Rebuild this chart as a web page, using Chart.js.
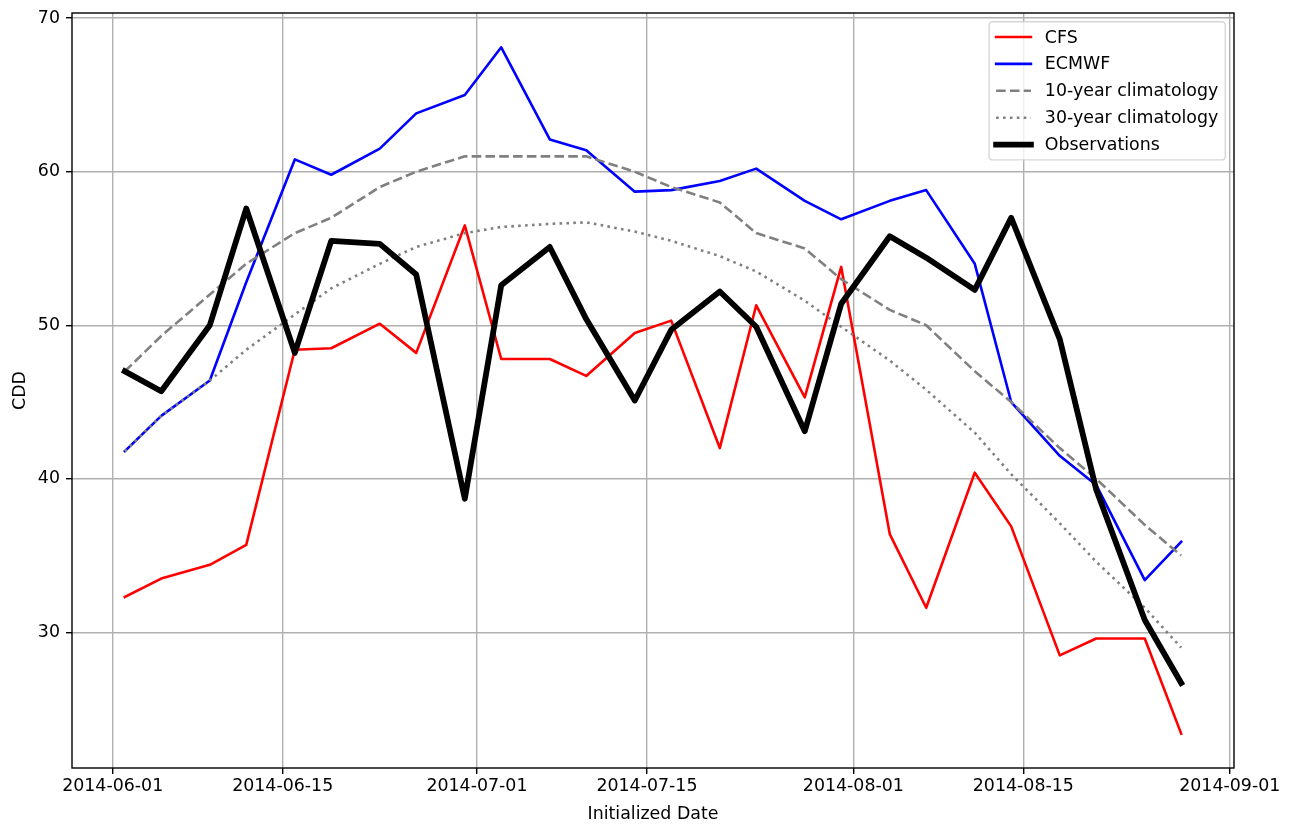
<!DOCTYPE html>
<html>
<head>
<meta charset="utf-8">
<script src="https://cdn.jsdelivr.net/npm/chart.js@4.4.1/dist/chart.umd.min.js"></script>
<style>
  html, body { margin: 0; padding: 0; background: #fff; }
  #wrap { width: 1292px; height: 836px; position: relative; }
</style>
</head>
<body>
<div id="wrap"><canvas id="cddChart"></canvas></div>
<script>
// initialization dates (Mondays and Thursdays)
const dates = [
  "2014-06-02", "2014-06-05", "2014-06-09", "2014-06-12", "2014-06-16", "2014-06-19",
  "2014-06-23", "2014-06-26", "2014-06-30", "2014-07-03", "2014-07-07", "2014-07-10",
  "2014-07-14", "2014-07-17", "2014-07-21", "2014-07-24", "2014-07-28", "2014-07-31",
  "2014-08-04", "2014-08-07", "2014-08-11", "2014-08-14", "2014-08-18", "2014-08-21",
  "2014-08-25", "2014-08-28"
];

const cfs = [32.3, 33.5, 34.4, 35.7, 48.4, 48.5, 50.1, 48.2, 56.5, 47.8, 47.8, 46.7, 49.5,
             50.3, 42.0, 51.3, 45.3, 53.8, 36.4, 31.6, 40.4, 36.9, 28.5, 29.6, 29.6, 23.4];
const ecmwf = [41.8, 44.1, 46.4, 52.8, 60.8, 59.8, 61.5, 63.8, 65.0, 68.1, 62.1, 61.4, 58.7,
               58.8, 59.4, 60.2, 58.1, 56.9, 58.1, 58.8, 54.0, 45.0, 41.5, 39.6, 33.4, 35.9];
const clim10 = [47.0, 49.3, 52.0, 54.0, 56.0, 57.0, 59.0, 60.0, 61.0, 61.0, 61.0, 61.0, 60.0,
                59.0, 58.0, 56.0, 55.0, 53.0, 51.0, 50.0, 47.0, 45.0, 42.0, 40.0, 37.0, 35.0];
const clim30 = [41.8, 44.1, 46.4, 48.4, 50.7, 52.4, 54.0, 55.1, 56.0, 56.4, 56.6, 56.7, 56.1,
                55.5, 54.5, 53.5, 51.6, 49.9, 47.7, 45.8, 43.0, 40.3, 37.1, 34.6, 31.6, 29.0];
const observations = [47.0, 45.7, 50.0, 57.6, 48.2, 55.5, 55.3, 53.3, 38.7, 52.6, 55.1, 50.4, 45.1,
                      49.7, 52.2, 49.9, 43.1, 51.4, 55.8, 54.4, 52.3, 57.0, 49.1, 39.3, 30.8, 26.7];

const xTickLabels = ["2014-06-01", "2014-06-15", "2014-07-01", "2014-07-15", "2014-08-01", "2014-08-15", "2014-09-01"];
const yTicks = [30, 40, 50, 60, 70];

// no date adapter available offline, so x is "days since 2014-06-01"
const DAY0 = Date.parse("2014-06-01");
const toDay = (d) => (Date.parse(d) - DAY0) / 86400000;
const pts = (vals) => vals.map((v, i) => ({ x: toDay(dates[i]), y: v }));

const FONT = 17.4;
Chart.defaults.font.family = "'DejaVu Sans', sans-serif";
Chart.defaults.font.size = FONT;
Chart.defaults.color = "#000";

// box around the axes + matplotlib-like legend
const frameAndLegend = {
  id: "frameAndLegend",
  afterDraw(chart) {
    const { ctx, chartArea: a } = chart;
    ctx.save();
    ctx.strokeStyle = "#000";
    ctx.lineWidth = 1.4;
    ctx.strokeRect(a.left, a.top, a.right - a.left, a.bottom - a.top);

    ctx.font = FONT + "px 'DejaVu Sans'";
    const sets = chart.data.datasets;
    const textW = Math.max(...sets.map((d) => ctx.measureText(d.label).width));
    const pad = 0.4 * FONT, handle = 2.0 * FONT, gap = 0.8 * FONT;
    const rowH = 26.9, firstRow = 15.3;
    const w = pad + handle + gap + textW + pad;
    const h = firstRow * 2 + rowH * (sets.length - 1);
    const right = a.right - 0.5 * FONT;
    const top = a.top + 0.5 * FONT;
    const left = right - w;

    ctx.beginPath();
    ctx.roundRect(left, top, w, h, 0.2 * FONT);
    ctx.fillStyle = "rgba(255,255,255,0.8)";
    ctx.fill();
    ctx.strokeStyle = "rgba(204,204,204,0.8)";
    ctx.lineWidth = 1.4;
    ctx.stroke();

    sets.forEach((d, i) => {
      const y = top + firstRow + i * rowH;
      ctx.save();
      ctx.strokeStyle = d.borderColor;
      ctx.lineWidth = d.borderWidth;
      ctx.lineCap = d.borderCapStyle;
      ctx.setLineDash(d.borderDash || []);
      ctx.beginPath();
      ctx.moveTo(left + pad, y);
      ctx.lineTo(left + pad + handle, y);
      ctx.stroke();
      ctx.restore();
      ctx.fillStyle = "#000";
      ctx.textBaseline = "middle";
      ctx.textAlign = "left";
      ctx.fillText(d.label, left + pad + handle + gap, y + 1);
    });
    ctx.restore();
  },
};

const lineSet = (label, vals, color, width, dash, order) => ({
  label: label,
  data: pts(vals),
  borderColor: color,
  backgroundColor: color,
  borderWidth: width,
  borderDash: dash,
  borderCapStyle: dash.length ? "butt" : "square",
  borderJoinStyle: "round",
  pointRadius: 0,
  tension: 0,
  fill: false,
  order: order,
});

new Chart(document.getElementById("cddChart"), {
  type: "line",
  data: {
    datasets: [
      lineSet("CFS", cfs, "#ff0000", 2.6, [], 5),
      lineSet("ECMWF", ecmwf, "#0000ff", 2.6, [], 4),
      lineSet("10-year climatology", clim10, "#808080", 2.6, [9.6, 4.2], 3),
      lineSet("30-year climatology", clim30, "#808080", 2.6, [2.6, 4.3], 2),
      lineSet("Observations", observations, "#000000", 5.8, [], 1),
    ],
  },
  options: {
    responsive: true,
    maintainAspectRatio: false,
    animation: false,
    layout: { padding: { top: 13, right: 58, left: 0, bottom: 0 } },
    plugins: {
      legend: { display: false },
      tooltip: { enabled: false },
    },
    scales: {
      x: {
        type: "linear",
        min: -3.35,
        max: 92.35,
        afterBuildTicks: (scale) => {
          scale.ticks = xTickLabels.map((t) => ({ value: toDay(t) }));
        },
        afterFit: (scale) => { scale.height = 68; },
        ticks: {
          autoSkip: false,
          maxRotation: 0,
          padding: 2,
          callback: (value, index) => xTickLabels[index],
        },
        grid: { color: "#b0b0b0", lineWidth: 1.4, tickColor: "#000", tickLength: 6, tickWidth: 1.4 },
        border: { display: false },
        title: { display: true, text: "Initialized Date", padding: { top: 0, bottom: 11.5 } },
      },
      y: {
        min: 21.165,
        max: 70.335,
        afterBuildTicks: (scale) => {
          scale.ticks = yTicks.map((v) => ({ value: v }));
        },
        afterFit: (scale) => {
          scale.width = 72;
          // keep the plot top at the layout padding, like the reference
          scale.paddingTop = 0;
          scale.paddingBottom = 0;
        },
        ticks: { padding: 6, callback: (value) => String(value) },
        grid: { color: "#b0b0b0", lineWidth: 1.4, tickColor: "#000", tickLength: 6, tickWidth: 1.4 },
        border: { display: false },
        title: { display: true, text: "CDD", padding: { top: 10.5, bottom: 0 } },
      },
    },
  },
  plugins: [frameAndLegend],
});
</script>
</body>
</html>
